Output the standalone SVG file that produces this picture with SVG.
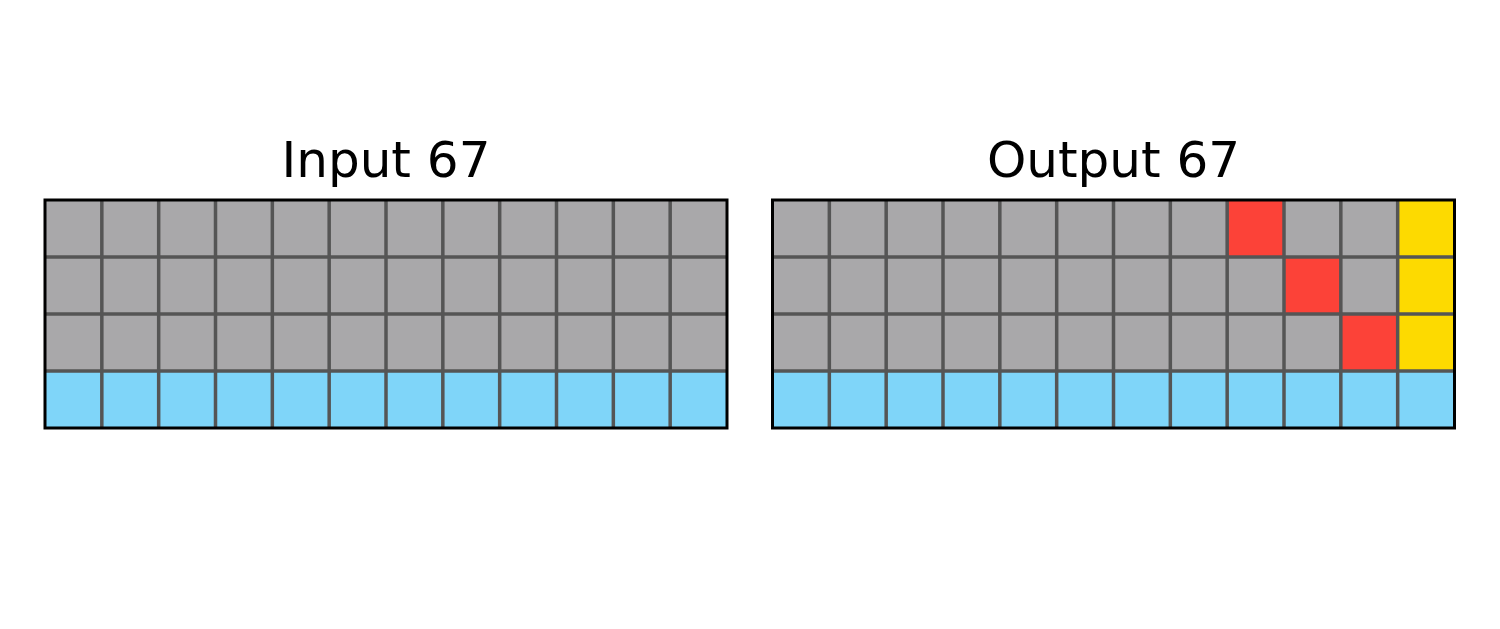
<svg xmlns="http://www.w3.org/2000/svg" width="1500" height="629" viewBox="0 0 1500 629">
<style>
.t{font-family:"DejaVu Sans",sans-serif;font-size:50px;fill:#000;text-anchor:middle}
.g{fill:#A9A8AA}.b{fill:#7FD5F9}.r{fill:#FC4238}.y{fill:#FDDA00}
.ln{stroke:#555555;stroke-width:3.5;fill:none}
.bd{stroke:#000;stroke-width:3;fill:none}
</style>
<defs>
<g id="lines">
<path class="ln" d="M56.83,0V228M113.67,0V228M170.5,0V228M227.33,0V228M284.17,0V228M341,0V228M397.83,0V228M454.67,0V228M511.5,0V228M568.33,0V228M625.17,0V228M0,57H682M0,114H682M0,171H682"/>
<rect class="bd" x="0" y="0" width="682" height="228"/>
</g>
</defs>
<rect width="1500" height="629" fill="#fff"/>
<g id="input">
<text class="t" x="386" y="177">Input 67</text>
<g transform="translate(45,200)">
<rect class="g" x="0" y="0" width="682" height="171"/>
<rect class="b" x="0" y="171" width="682" height="57"/>
<use href="#lines"/>
</g>
</g>
<g id="output">
<text class="t" x="1113.5" y="177">Output 67</text>
<g transform="translate(772.5,200)">
<rect class="g" x="0" y="0" width="682" height="171"/>
<rect class="b" x="0" y="171" width="682" height="57"/>
<rect class="r" x="454.67" y="0" width="56.83" height="57"/>
<rect class="r" x="511.5" y="57" width="56.83" height="57"/>
<rect class="r" x="568.33" y="114" width="56.83" height="57"/>
<rect class="y" x="625.17" y="0" width="56.83" height="171"/>
<use href="#lines"/>
</g>
</g>
</svg>
